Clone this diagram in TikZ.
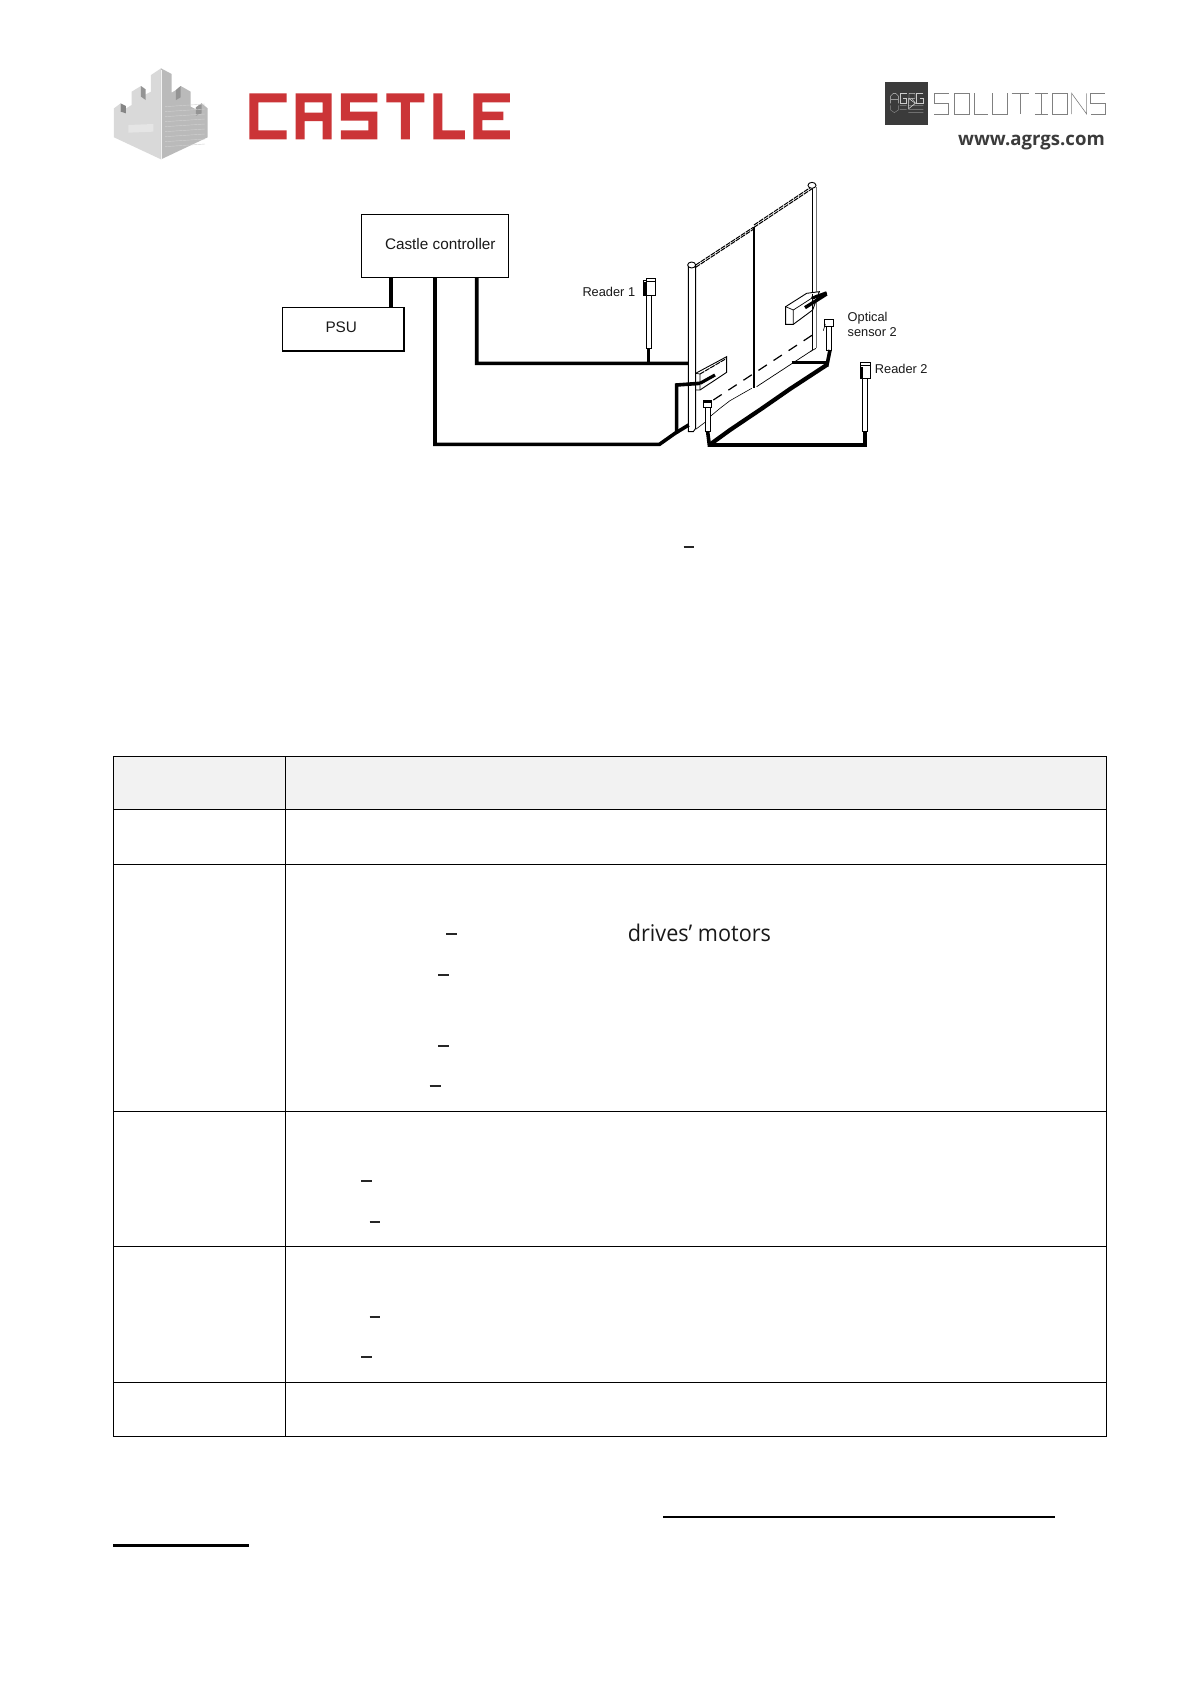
\documentclass[tikz,border=0pt]{standalone}
\usepackage{fontspec}
\setmainfont{Liberation Sans}
\newfontfamily\opensans{Open Sans}
\newfontfamily\opencond[FakeStretch=.94]{Open Sans}
\definecolor{castlered}{HTML}{CB3437}
\definecolor{headgrey}{HTML}{F2F2F2}
\definecolor{wirelogo}{HTML}{808080}
\definecolor{darkbox}{HTML}{3B3B3B}
\tikzset{
  cable/.style={line width=3.6pt,line cap=butt,line join=miter,black},
  thinline/.style={line width=.7pt,black},
  fineline/.style={line width=.6pt,black},
  greyline/.style={line width=.8pt,black!55},
  hw/.style={line width=.9pt,black,fill=white},
  chain/.style={line width=1pt,black,dash pattern=on 5pt off 1pt},
  rule/.style={line width=1pt,black},
  tdash/.style={line width=1.4pt,black!85},
  lab/.style={inner sep=0pt,anchor=base west,text=black!90},
  boxnode/.style={draw=black,inner sep=0pt,fill=white},
  logofill/.style={fill=castlered,draw=none},
  wl/.style={draw=wirelogo,line width=.6pt},
  wi/.style={draw=white!80!black,line width=.4pt},
}
\begin{document}
\begin{tikzpicture}[x=1pt,y=-1pt]
\useasboundingbox (0,0) rectangle (1191,1684);
\fill[white] (0,0) rectangle (1191,1684);

% ---------- Castle logo
\begin{scope}[x=.33333pt,y=-.33333pt,shift={(270,150)}]
\fill[black!15] (72,262)--(72,175)--(92,160)--(92,185)--(125,165)--(125,125)--(153,108)--(153,140)--(183,125)--(183,75)--(213,55)--(213,328)--cycle;
\fill[black!27] (213,55)--(245,72)--(245,128)--(258,120)--(272,108)--(302,125)--(302,170)--(318,178)--(318,172)--(335,160)--(353,175)--(353,262)--(213,328)--cycle;
\fill[black!48] (92,160)--(108,168)--(108,190)--(92,185)--cycle;
\fill[black!42] (153,108)--(167,118)--(167,150)--(153,140)--cycle;
\fill[black!42] (258,120)--(272,108)--(272,142)--(258,150)--cycle;
\fill[black!42] (318,172)--(335,160)--(335,190)--(318,197)--cycle;
\foreach \yy in {170,185,200,215,230,245,260,275,290}{
  \draw[black!18,line width=.4pt] (225,\yy)--(345,\yy-8);
}
\draw[black!5,line width=.8pt] (213,60)--(213,328);
\fill[black!10] (115,225)--(190,222)--(190,245)--(115,248)--cycle;
\fill[logofill] (478,130)--(590,130)--(590,157)--(505,157)--(505,241)--(590,241)--(590,268)--(478,268)--cycle;
\fill[logofill,even odd rule] (617,130)--(725,130)--(725,268)--(698,268)--(698,213)--(644,213)--(644,268)--(617,268)--cycle (644,157)--(698,157)--(698,188)--(644,188)--cycle;
\fill[logofill] (753,130)--(862,130)--(862,157)--(780,157)--(780,185)--(862,185)--(862,268)--(753,268)--(753,241)--(835,241)--(835,212)--(753,212)--cycle;
\fill[logofill] (889,130)--(1003,130)--(1003,157)--(960,157)--(960,268)--(933,268)--(933,157)--(889,157)--cycle;
\fill[logofill] (1030,130)--(1057,130)--(1057,241)--(1125,241)--(1125,268)--(1030,268)--cycle;
\fill[logofill] (1150,130)--(1260,130)--(1260,157)--(1177,157)--(1177,185)--(1240,185)--(1240,210)--(1177,210)--(1177,241)--(1260,241)--(1260,268)--(1150,268)--cycle;
\end{scope}

% ---------- Solutions logo
\begin{scope}[x=.33333pt,y=-.33333pt,shift={(2580,180)}]
\fill[darkbox] (75,65) rectangle (205,195);
\draw[wi] (92,130)--(92,108)--(100,100)--(107,100)--(115,108)--(115,130) (92,118)--(115,118);
\draw[wi] (140,100)--(120,100)--(120,130)--(140,130)--(140,115)--(130,115);
\draw[wi] (147,130)--(147,100)--(165,100)--(165,115)--(147,115) (155,115)--(167,130);
\draw[wi] (190,100)--(170,100)--(170,130)--(190,130)--(190,115)--(180,115);
\draw[black!45,line width=.4pt] (92,136)--(92,150)--(103,158)--(115,150)--(115,136) (120,136)--(140,136) (120,148)--(140,148) (145,136)--(190,136) (145,148)--(190,148) (145,158)--(190,158);
\draw[white!90!black,line width=.5pt] (146,115)--(166,130)--(146,146)--cycle;
% S
\draw[wl] (266,100)--(222,100)--(222,130)--(266,130)--(266,162)--(222,162);
% O
\draw[wl] (282,100) rectangle (327,162);
% L
\draw[wl] (343,100)--(343,162)--(383,162);
% U
\draw[wl] (397,100)--(397,162)--(442,162)--(442,100);
% T
\draw[wl] (455,100)--(508,100) (481,100)--(481,162);
% I
\draw[wl] (525,100)--(565,100) (545,100)--(545,162) (525,162)--(565,162);
% O
\draw[wl] (577,100) rectangle (623,162);
% N
\draw[wl] (635,162)--(635,100)--(680,162)--(680,100);
% S
\draw[wl] (735,100)--(692,100)--(692,130)--(735,130)--(735,162)--(692,162);
\end{scope}
\node[inner sep=0pt,anchor=base east,text=darkbox] (url) at (1105,145.5)
  {\opensans\fontsize{18.6}{22}\selectfont\bfseries www.agrgs.com};

% ---------- Nodes of the scheme
\node[boxnode,line width=.8pt,minimum width=147pt,minimum height=63.4pt] (ctrl) at (435.2,246) {};
\node[lab] (ctrltext) at (384.8,249.3) {\fontsize{15.3}{18}\selectfont Castle controller};
\node[boxnode,line width=1.5pt,minimum width=121.7pt,minimum height=43.3pt] (psu) at (343.2,329.3) {};
\node[lab] (psutext) at (325.3,332) {\fontsize{15.3}{18}\selectfont PSU};
\node[lab] (r1text) at (582.3,296) {\fontsize{12.8}{15}\selectfont Reader 1};
\node[lab] (r2text) at (874.7,373) {\fontsize{12.8}{15}\selectfont Reader 2};
\node[lab] (s2texta) at (847.5,321) {\fontsize{12.8}{15}\selectfont Optical};
\node[lab] (s2textb) at (847.5,336) {\fontsize{12.8}{15}\selectfont sensor 2};

% ---------- Gate, drawn in the units of a 3x crop
\begin{scope}[x=.33333pt,y=-.33333pt,shift={(1890,510)}]
\coordinate (sens1foot) at (238,825);
\coordinate (reader2foot) at (705,825);
\coordinate (r1foot) at (57,535);
\coordinate (r1junction) at (57,580);
\coordinate (poleA) at (175,580);
% panels
\draw[hw] (175,285)--(197,285)--(197,775)--(190,785)--(175,785)--cycle;
\draw[hw] (185,285) ellipse (12 and 9);
\draw[chain] (197,285)--(370,172);
\draw[chain] (197,292)--(370,178);
\draw[chain] (372,165)--(545,50);
\draw[chain] (372,172)--(545,57);
\draw[line width=2.3pt] (373,170)--(373,655);
\draw[line width=1.5pt] (548,55)--(548,540);
\draw[greyline] (558,50)--(558,535);
\draw[hw] (546,46) ellipse (12 and 9);
\draw[thinline] (540,545)--(558,535);
% bottom edges of panels
\draw[fineline] (197,778)--(225,757);
\draw[fineline] (240,740)--(270,715)--(300,692)--(365,655);
\draw[thinline] (380,650)--(545,542);
\draw[line width=1.2pt,dash pattern=on 10pt off 8pt] (250,690)--(555,490);
% driver 1
\draw[hw] (197,610)--(290,560)--(290,607)--(210,660)--(197,660)--cycle;
\draw[thinline] (197,610)--(210,612)--(210,660);
\draw[chain] (210,612)--(290,565);
\draw[line width=3.2pt] (210,640)--(255,615);
% driver 2
\draw[hw] (467,410)--(530,370)--(568,365)--(548,420)--(490,463)--(467,463)--cycle;
\draw[thinline] (467,410)--(490,420)--(490,463);
\draw[thinline] (490,420)--(560,375);
\draw[line width=3.4pt] (525,413)--(590,372);
\draw[line width=3pt] (545,385)--(590,368);
\draw[line width=1.5pt] (548,372)--(548,540);
% reader 1
\draw[hw] (50,375) rectangle (65,535);
\draw[hw] (40,330) rectangle (75,375);
\fill[black] (40,337) rectangle (51,375);
\draw[thinline,fill=white] (50,325) rectangle (75,333);
\draw[line width=3pt] (r1foot)--(r1junction);
% sensor 1
\draw[hw] (227,710) rectangle (240,785);
\draw[line width=1.2pt,fill=white] (220,692) rectangle (245,712);
\fill[black] (220,692) rectangle (245,698);
% sensor 2
\draw[hw] (590,470) rectangle (603,540);
\draw[line width=1pt,fill=white] (585,450) rectangle (612,470);
\draw[fineline] (580,482)--(586,462);
% reader 2
\draw[hw] (697,625) rectangle (712,785);
\draw[line width=1.5pt] (712,625)--(712,785);
\draw[hw] (690,585) rectangle (722,625);
\fill[black] (690,590) rectangle (700,625);
\draw[thinline,fill=white] (692,578) rectangle (722,587);
% cables of the gate
\draw[cable] (705,785)--(reader2foot)--(sens1foot)--(233,785);
\draw[line width=4.2pt,line join=round] (sens1foot)--(300,780)--(395,716)--(480,657)--(590,585);
\draw[cable] (590,590)--(600,540);
\draw[cable,line width=3pt] (485,578)--(595,578);
\draw[cable] (140,790)--(140,645)--(210,640);
\coordinate (w2c) at (135,790);
\coordinate (w2d) at (176,765);
\end{scope}

% ---------- Cables from controller
\coordinate (psuA) at (391,277.7);
\coordinate (psuB) at (391,307);
\draw[cable,line width=4pt] (psuA)--(psuB);
\coordinate (c2a) at (435,277.7);
\coordinate (c2b) at (435,444.3);
\coordinate (c2c) at (659.5,444.3);
\draw[cable] (c2a)--(c2b)--(c2c)--(w2c)--(w2d);
\coordinate (c3a) at (476.7,277.7);
\coordinate (c3b) at (476.7,363.3);
\draw[cable] (c3a)--(c3b)--(poleA);
\draw[cable,line width=3pt] (r1foot)--(r1junction);

% ---------- Dashes and leftover text
\draw[tdash] (683.5,547)--(694,547);
\draw[tdash] (446,934)--(457,934);
\draw[tdash] (438,975)--(449,975);
\draw[tdash] (438,1046)--(449,1046);
\draw[tdash] (429.5,1086)--(441,1086);
\draw[tdash] (361,1181)--(372,1181);
\draw[tdash] (369.5,1222)--(380,1222);
\draw[tdash] (369.5,1317)--(380,1317);
\draw[tdash] (361,1357)--(372,1357);
\node[inner sep=0pt,anchor=base west,text=black!90] (drv) at (627.7,941)
  {\opencond\fontsize{23}{26}\selectfont drives’ motors};

% ---------- Table
\fill[headgrey] (113,756) rectangle (1106.5,809);
\coordinate (tl) at (113.5,756.5);
\coordinate (br) at (1106.5,1436.5);
\coordinate (ct) at (285.5,756.5);
\coordinate (cb) at (285.5,1436.5);
\draw[rule] (tl) rectangle (br);
\draw[rule] (ct)--(cb);
\foreach \yy in {809.5,864.5,1111.5,1246.5,1382.5}{
  \draw[rule] (113.5,\yy)--(1106.5,\yy);
}

% ---------- Underlines
\fill[black] (663,1515.6) rectangle (1055,1517.6);
\fill[black] (113,1544) rectangle (249,1546.6);
\end{tikzpicture}
\end{document}
